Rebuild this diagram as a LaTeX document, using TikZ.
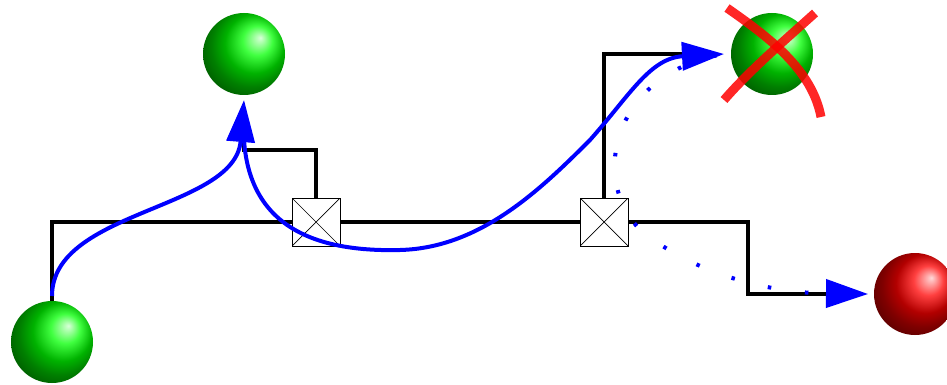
\documentclass[tikz,border=0pt]{standalone}
\usetikzlibrary{arrows.meta}
\begin{document}
\begin{tikzpicture}[x=1pt,y=-1pt,
  ballnode/.style={circle,minimum size=82pt,inner sep=0pt,shading angle=-90},
  switchbox/.style={draw,line width=1pt,fill=white,minimum size=48pt,inner sep=0pt,
    path picture={\draw[line width=0.7pt] (path picture bounding box.south west)--(path picture bounding box.north east)
      (path picture bounding box.north west)--(path picture bounding box.south east);}},
  wire/.style={line width=3.6pt,black},
  flow/.style={line width=4pt,blue,-{Triangle[length=42pt,width=28pt]}},
  rerouted/.style={line width=4pt,blue,dash pattern=on 3.5pt off 34pt,-{Triangle[length=42pt,width=28pt]}},
  cross/.style={line width=9pt,red,opacity=0.85},
]
\useasboundingbox (0,0) rectangle (947,385);
% balls
\node[ballnode,ball color=green] (src) at (52,342) {};
\node[ballnode,ball color=green] (dstA) at (244,54) {};
\node[ballnode,ball color=green] (dstB) at (772,54) {};
\node[ballnode,ball color=red] (dstC) at (915,294) {};
% switches
\node[switchbox] (sw1) at (316,222) {};
\node[switchbox] (sw2) at (604,222) {};
% wire corners
\coordinate (c1) at (52,222);
\coordinate (c2) at (316,150);
\coordinate (c3) at (244,150);
\coordinate (c3e) at (244,142);
\coordinate (c4) at (604,54);
\coordinate (c4e) at (700,54);
\coordinate (c5) at (748,222);
\coordinate (c6) at (748,294);
\coordinate (c6e) at (840,294);
% wires
\draw[wire] (src.north) -- (c1) -- (sw1.west);
\draw[wire] (sw1.east) -- (sw2.west);
\draw[wire] (sw1.north) -- (c2) -- (c3) -- (c3e);
\draw[wire] (sw2.north) -- (c4) -- (c4e);
\draw[wire] (sw2.east) -- (c5) -- (c6) -- (c6e);
\node[switchbox] at (sw1) {};
\node[switchbox] at (sw2) {};
% flows
\coordinate (s1) at (52,296);
\coordinate (t1) at (244,100);
\coordinate (s2) at (244,140);
\coordinate (m2) at (400,250);
\coordinate (n2) at (590,140);
\coordinate (t2) at (724,54);
\coordinate (t3) at (868,294);
\draw[flow] (s1) .. controls (52,210) and (235,210) .. (t1);
\draw[flow] (s2) .. controls (250,230) and (320,252) .. (m2)
  .. controls (480,248) and (540,190) .. (n2)
  .. controls (630,95) and (650,58) .. (t2);
\draw[rerouted,dash phase=30pt] (t2) .. controls (600,75) and (585,205) .. (661,245)
  .. controls (715,280) and (780,293) .. (t3);
% cross
\draw[cross] (727,8) .. controls (770,38) and (812,70) .. (821,117);
\draw[cross] (815,13) .. controls (785,40) and (750,70) .. (724,100);
\end{tikzpicture}
\end{document}
